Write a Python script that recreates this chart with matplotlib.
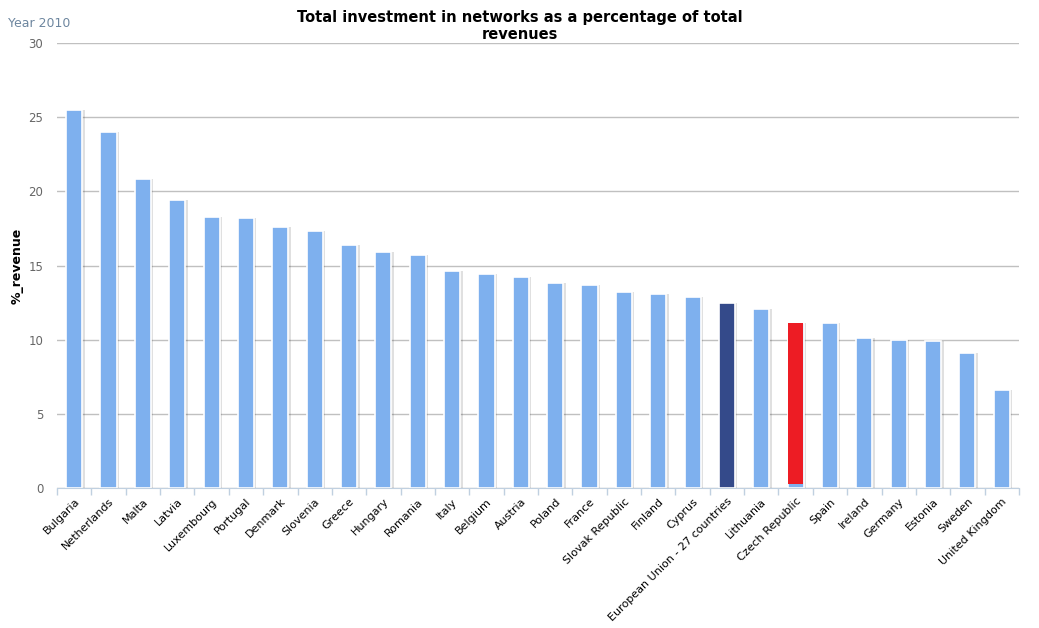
import matplotlib.pyplot as plt
import numpy as np

# data (year 2010)
countries = ['Bulgaria', 'Netherlands', 'Malta', 'Latvia', 'Luxembourg', 'Portugal',
             'Denmark', 'Slovenia', 'Greece', 'Hungary', 'Romania', 'Italy', 'Belgium',
             'Austria', 'Poland', 'France', 'Slovak Republic', 'Finland', 'Cyprus',
             'European Union - 27 countries', 'Lithuania', 'Czech Republic', 'Spain',
             'Ireland', 'Germany', 'Estonia', 'Sweden', 'United Kingdom']
revenue_pct = [25.5, 24.0, 20.8, 19.4, 18.3, 18.2, 17.6, 17.3, 16.4, 15.9, 15.7, 14.6,
               14.4, 14.2, 13.8, 13.7, 13.2, 13.1, 12.9, 12.5, 12.1, 11.1, 11.1, 10.1,
               10.0, 9.9, 9.1, 6.6]
eu_name = 'European Union - 27 countries'
highlight_name = 'Czech Republic'

light_blue = '#7eb0ee'
dark_blue = '#344a8a'
red = '#ed1c24'

colors = []
for c in countries:
    if c == eu_name:
        colors.append(dark_blue)
    else:
        colors.append(light_blue)

fig = plt.figure(figsize=(10.39, 6.28), dpi=100)
ax = fig.add_axes([0.0549, 0.2229, 0.9258, 0.7086])

x = np.arange(len(countries))
w = 0.47

# soft shadow behind bars
ax.bar(x + 0.07, revenue_pct, width=w, color='#000000', alpha=0.12, zorder=2)
ax.bar(x, revenue_pct, width=w, color=colors, edgecolor='white', linewidth=1.2, zorder=3)

# highlighted (hovered) bar drawn red on top
i = countries.index(highlight_name)
ax.bar(x[i], revenue_pct[i] - 0.25, bottom=0.25, width=w - 0.04, color=red, zorder=4)

ax.set_xlim(-0.5, len(countries) - 0.5)
ax.set_ylim(0, 30)
ax.set_yticks(range(0, 31, 5))
ax.yaxis.grid(True, color='#c0c0c0', linewidth=1)
ax.set_axisbelow(True)

for s in ['top', 'right', 'left']:
    ax.spines[s].set_visible(False)
ax.spines['bottom'].set_color('#c0d0e0')
ax.spines['bottom'].set_zorder(5)

ax.tick_params(axis='y', length=0, labelsize=8.5, labelcolor='#666666', pad=10)
ax.set_xticks(x)
ax.set_xticklabels(countries, rotation=45, ha='right', rotation_mode='anchor',
                   fontsize=8, color='#000000')
ax.tick_params(axis='x', length=0, pad=6)
# boundary tick marks like the original
ax.set_xticks(np.arange(len(countries) + 1) - 0.5, minor=True)
ax.tick_params(axis='x', which='minor', length=5, color='#c0d0e0', width=1)

ax.set_ylabel('%_revenue', fontsize=9, fontweight='bold')
ax.yaxis.set_label_coords(-0.035, 0.5)

fig.text(0.5, 0.958, 'Total investment in networks as a percentage of total\nrevenues',
         ha='center', va='center', fontsize=10.5, fontweight='bold', linespacing=1.15)
fig.text(0.008, 0.962, 'Year 2010', ha='left', va='center', fontsize=9, color='#6d869f')

plt.savefig('out.png', dpi=100)
